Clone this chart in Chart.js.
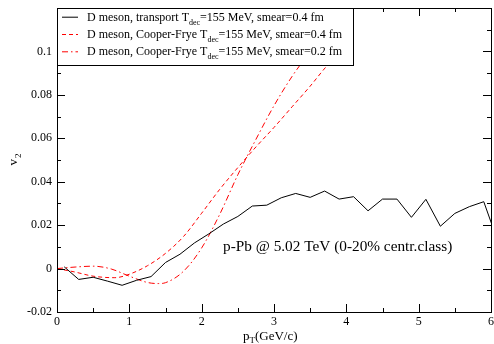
<!DOCTYPE html>
<html>
<head>
<meta charset="utf-8">
<script src="https://cdn.jsdelivr.net/npm/chart.js@4.4.1/dist/chart.umd.min.js"></script>
<style>
  html, body { margin: 0; padding: 0; background: #fff; }
  #grafica { display: block; }
</style>
</head>
<body>
<canvas id="grafica" width="494" height="344"></canvas>
<script>
// Datos (v2 vs pT)
const pTTransporte = [0.1, 0.3, 0.5, 0.7, 0.9, 1.1, 1.3, 1.5, 1.7, 1.9, 2.1, 2.3, 2.5, 2.7, 2.9,
  3.1, 3.3, 3.5, 3.7, 3.9, 4.1, 4.3, 4.5, 4.7, 4.9, 5.1, 5.3, 5.5, 5.7, 5.9, 6.1];
const v2Transporte = [0.0008, -0.005, -0.004, -0.0058, -0.0077, -0.0054, -0.0037, 0.0028, 0.0066, 0.0118,
  0.016, 0.0205, 0.024, 0.0288, 0.0292, 0.0326, 0.0346, 0.0328, 0.0357, 0.032, 0.0331, 0.0266,
  0.032, 0.032, 0.0236, 0.0319, 0.0195, 0.0254, 0.0285, 0.0308, 0.012];

const pTSmear04 = [0, 0.25, 0.5, 0.8, 1.0, 1.25, 1.5, 1.75, 2.0, 2.25, 2.5, 2.75, 3.0, 3.25, 3.5, 3.75, 3.95];
const v2Smear04 = [0, -0.0016, -0.0035, -0.0042, -0.0026, 0.0013, 0.007, 0.0148, 0.0255, 0.0365,
  0.0465, 0.056, 0.065, 0.0745, 0.084, 0.094, 0.1];

const pTSmear02 = [0, 0.25, 0.5, 0.75, 1.0, 1.25, 1.4, 1.5, 1.75, 2.0, 2.25, 2.5, 2.75, 3.0, 3.25, 3.5];
const v2Smear02 = [0, 0.0007, 0.0011, -0.0002, -0.0035, -0.0064, -0.0069, -0.0065, -0.0012, 0.0095,
  0.025, 0.0432, 0.0595, 0.075, 0.0885, 0.1];

// Textos
const leyenda = [
  { antes: 'D meson, transport T', sub: 'dec', despues: '=155 MeV, smear=0.4 fm', color: '#000', dash: [] },
  { antes: 'D meson, Cooper-Frye T', sub: 'dec', despues: '=155 MeV, smear=0.4 fm', color: '#ff0000', dash: [4, 3] },
  { antes: 'D meson, Cooper-Frye T', sub: 'dec', despues: '=155 MeV, smear=0.2 fm', color: '#ff0000', dash: [6, 3, 1.5, 3] }
];
const nota = 'p-Pb @ 5.02 TeV (0-20% centr.class)';

const FUENTE = '"Liberation Serif", "DejaVu Serif", serif';

function puntos(xs, ys) {
  return xs.map((x, i) => ({ x: x, y: ys[i] }));
}

function etiquetaY(v) {
  const c = Math.round(v * 100);
  if (c % 2 !== 0 || c === 12) return '';
  return String(c / 100);
}

// Dibuja marco, ticks hacia adentro, leyenda y textos
const marco = {
  id: 'marco',
  afterDatasetsDraw(chart) {
    const ctx = chart.ctx;
    const a = chart.chartArea;
    const x = chart.scales.x;
    const y = chart.scales.y;
    ctx.save();
    ctx.strokeStyle = '#000';
    ctx.lineWidth = 1;
    ctx.setLineDash([]);

    function linea(x1, y1, x2, y2) {
      ctx.beginPath();
      ctx.moveTo(x1, y1);
      ctx.lineTo(x2, y2);
      ctx.stroke();
    }

    x.ticks.forEach(t => {
      const px = Math.round(x.getPixelForValue(t.value)) + 0.5;
      const len = t.label !== '' ? 8 : 4;
      linea(px, a.bottom, px, a.bottom - len);
      linea(px, a.top, px, a.top + len);
    });
    y.ticks.forEach(t => {
      const py = Math.round(y.getPixelForValue(t.value)) + 0.5;
      const len = t.label !== '' ? 8 : 4;
      linea(a.left, py, a.left + len, py);
      linea(a.right, py, a.right - len, py);
    });

    ctx.strokeRect(Math.round(a.left) + 0.5, Math.round(a.top) + 0.5,
      Math.round(a.right - a.left), Math.round(a.bottom - a.top));

    // Leyenda
    ctx.fillStyle = '#fff';
    ctx.fillRect(a.left, a.top, 296, 57);
    ctx.strokeRect(Math.round(a.left) + 0.5, Math.round(a.top) + 0.5, 296, 57);
    ctx.textBaseline = 'alphabetic';
    leyenda.forEach((item, i) => {
      const base = 20.7 + i * 17.3;
      ctx.strokeStyle = item.color;
      ctx.setLineDash(item.dash);
      linea(62, base - 3.5, 78, base - 3.5);
      ctx.setLineDash([]);
      ctx.fillStyle = '#000';
      ctx.font = '12px ' + FUENTE;
      ctx.fillText(item.antes, 87, base);
      let px = 87 + ctx.measureText(item.antes).width;
      ctx.font = '8px ' + FUENTE;
      ctx.fillText(item.sub, px, base + 4);
      px += ctx.measureText(item.sub).width;
      ctx.font = '12px ' + FUENTE;
      ctx.fillText(item.despues, px, base);
    });

    // Anotacion
    ctx.fillStyle = '#000';
    ctx.font = '15.3px ' + FUENTE;
    ctx.fillText(nota, 223, 251);

    // Titulo eje x: pT(GeV/c)
    ctx.font = '13px ' + FUENTE;
    ctx.fillText('p', 243, 340);
    let tx = 243 + ctx.measureText('p').width;
    ctx.font = '9px ' + FUENTE;
    ctx.fillText('T', tx, 343);
    tx += ctx.measureText('T').width;
    ctx.font = '13px ' + FUENTE;
    ctx.fillText('(GeV/c)', tx, 340);

    // Titulo eje y: v2
    ctx.save();
    ctx.translate(17, 165.5);
    ctx.rotate(-Math.PI / 2);
    ctx.font = '13px ' + FUENTE;
    ctx.fillText('v', 0, 0);
    const vw = ctx.measureText('v').width;
    ctx.font = '9px ' + FUENTE;
    ctx.fillText('2', vw + 1, 4);
    ctx.restore();

    ctx.restore();
  }
};

const ctx = document.getElementById('grafica');

new Chart(ctx, {
  type: 'line',
  data: {
    datasets: [
      {
        label: 'transport',
        data: puntos(pTTransporte, v2Transporte),
        borderColor: '#000',
        borderWidth: 1,
        pointRadius: 0,
        tension: 0
      },
      {
        label: 'smear 0.4',
        data: puntos(pTSmear04, v2Smear04),
        borderColor: '#ff0000',
        borderWidth: 1,
        borderDash: [4, 3],
        pointRadius: 0,
        cubicInterpolationMode: 'monotone'
      },
      {
        label: 'smear 0.2',
        data: puntos(pTSmear02, v2Smear02),
        borderColor: '#ff0000',
        borderWidth: 1,
        borderDash: [6, 3, 1.5, 3],
        pointRadius: 0,
        cubicInterpolationMode: 'monotone'
      }
    ]
  },
  options: {
    responsive: false,
    animation: false,
    layout: { padding: { top: 8, right: 3, left: 0, bottom: 0 } },
    plugins: {
      legend: { display: false },
      tooltip: { enabled: false }
    },
    scales: {
      x: {
        type: 'linear',
        min: 0,
        max: 6,
        grid: { display: false, drawTicks: false },
        border: { display: false },
        ticks: {
          stepSize: 0.5,
          autoSkip: false,
          maxRotation: 0,
          padding: 3,
          color: '#000',
          font: { family: FUENTE, size: 12 },
          callback: v => Number.isInteger(v) ? String(v) : ''
        },
        afterFit: s => { s.height = 32; s.paddingLeft = 0; s.paddingRight = 0; }
      },
      y: {
        type: 'linear',
        min: -0.02,
        max: 0.12,
        grid: { display: false, drawTicks: false },
        border: { display: false },
        ticks: {
          stepSize: 0.01,
          autoSkip: false,
          padding: 5,
          color: '#000',
          font: { family: FUENTE, size: 12 },
          callback: v => etiquetaY(v)
        },
        afterFit: s => { s.width = 57; s.paddingTop = 0; s.paddingBottom = 0; }
      }
    }
  },
  plugins: [marco]
});
</script>
</body>
</html>
